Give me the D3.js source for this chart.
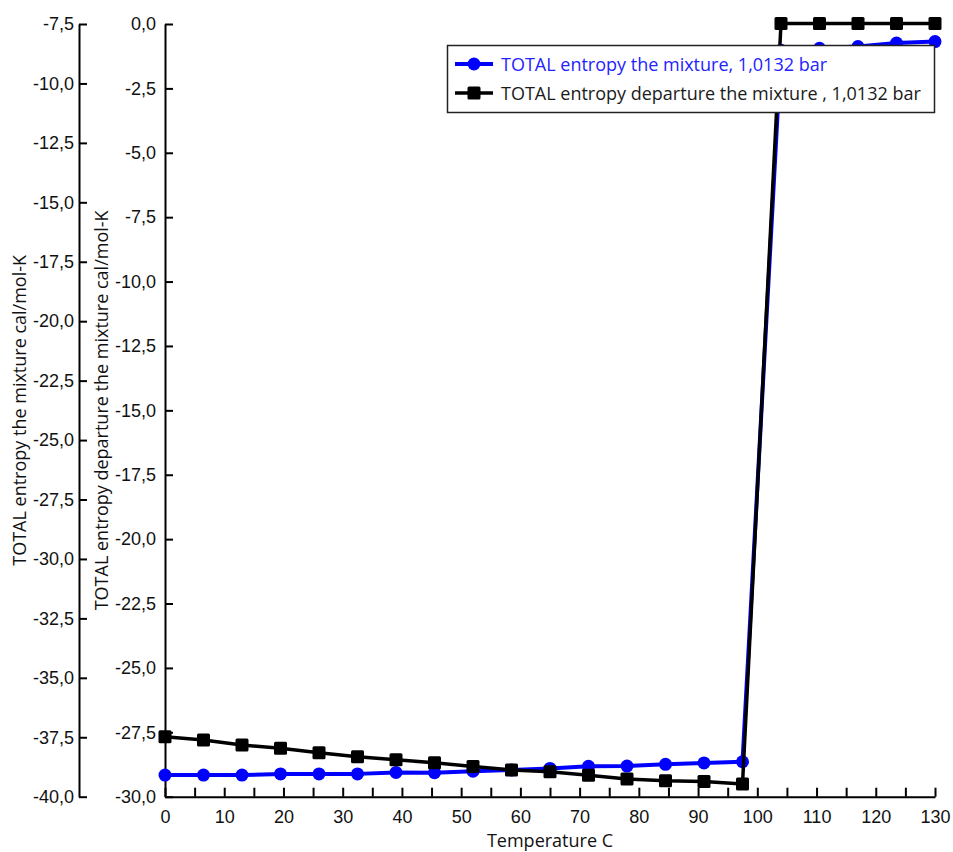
<!DOCTYPE html>
<html>
<head>
<meta charset="utf-8">
<script src="https://cdn.jsdelivr.net/npm/d3@7"></script>
<style>
  body { margin: 0; background: #fff; }
  svg { display: block; font-family: "Open Sans", "Noto Sans", sans-serif; }
</style>
</head>
<body>
<svg id="chart" width="953" height="852"></svg>
<script>
// temperature, C
var temps = [0, 6.5, 13, 19.5, 26, 32.5, 39, 45.5, 52, 58.5, 65, 71.5, 78, 84.5, 91, 97.5, 104, 110.5, 117, 123.5, 130];
// TOTAL entropy the mixture (left axis)
var entropy = [-39.09, -39.09, -39.09, -39.04, -39.04, -39.04, -38.98, -38.99, -38.93, -38.88, -38.81, -38.72, -38.71, -38.64, -38.58, -38.53,
               -8.60, -8.52, -8.45, -8.30, -8.24];
// TOTAL entropy departure the mixture (second axis)
var departure = [-27.67, -27.80, -27.99, -28.12, -28.29, -28.45, -28.57, -28.68, -28.83, -28.96, -29.03, -29.17, -29.31, -29.38, -29.41, -29.51,
                 0.02, 0.02, 0.02, 0.02, 0.02];

var xTicks = [0, 5, 10, 15, 20, 25, 30, 35, 40, 45, 50, 55, 60, 65, 70, 75, 80, 85, 90, 95, 100, 105, 110, 115, 120, 125, 130];
var leftTicks = [-7.5, -10, -12.5, -15, -17.5, -20, -22.5, -25, -27.5, -30, -32.5, -35, -37.5, -40];
var rightTicks = [0, -2.5, -5, -7.5, -10, -12.5, -15, -17.5, -20, -22.5, -25, -27.5, -30];

var legendNames = ["TOTAL entropy the mixture, 1,0132 bar", "TOTAL entropy departure the mixture , 1,0132 bar"];

var svg = d3.select("#chart");
var top_ = 24, bottom = 796.7;
var axL = 79, axR = 165, xEnd = 935;
var fs = "18px";

var x = d3.scaleLinear().domain([0, 130]).range([axR, xEnd]);
var yL = d3.scaleLinear().domain([-40, -7.5]).range([bottom, top_]);
var yR = d3.scaleLinear().domain([-30, 0]).range([bottom, top_]);

function fmt(d) {
    return (d < 0 ? "-" : "") + d3.format(".1f")(Math.abs(d)).replace(".", ",");
}

function styleAxis(g) {
    g.selectAll("path.domain").attr("stroke", "#000").attr("stroke-width", 2);
    g.selectAll(".tick line").attr("stroke", "#000").attr("stroke-width", 2);
    g.selectAll(".tick text").attr("fill", "#111").style("font-size", fs).attr("font-family", null);
}

// left axis
var gL = svg.append("g").attr("transform", "translate(" + axL + ",0)")
    .call(d3.axisLeft(yL).tickValues(leftTicks).tickFormat(fmt).tickSizeInner(-8).tickSizeOuter(0).tickPadding(5));
styleAxis(gL);

// second axis
var gR = svg.append("g").attr("transform", "translate(" + axR + ",0)")
    .call(d3.axisLeft(yR).tickValues(rightTicks).tickFormat(fmt).tickSizeInner(-8).tickSizeOuter(0).tickPadding(9));
styleAxis(gR);

// x axis
var gX = svg.append("g").attr("transform", "translate(0," + bottom + ")")
    .call(d3.axisBottom(x).tickValues(xTicks).tickFormat(function (d) { return d % 10 === 0 ? d : ""; })
        .tickSizeInner(-9).tickSizeOuter(0).tickPadding(14));
styleAxis(gX);

// axis titles
svg.append("text").attr("x", (axR + xEnd) / 2).attr("y", 847).attr("text-anchor", "middle")
    .style("font-size", fs).attr("fill", "#111").text("Temperature C");
svg.append("text").attr("transform", "translate(26," + (top_ + bottom) / 2 + ") rotate(-90)")
    .attr("text-anchor", "middle").style("font-size", fs).attr("fill", "#111")
    .text("TOTAL entropy the mixture cal/mol-K");
svg.append("text").attr("transform", "translate(108," + (top_ + bottom) / 2 + ") rotate(-90)")
    .attr("text-anchor", "middle").style("font-size", fs).attr("fill", "#111")
    .text("TOTAL entropy departure the mixture cal/mol-K");

// series
var blueData = temps.map(function (t, i) { return [t, entropy[i]]; });
var blackData = temps.map(function (t, i) { return [t, departure[i]]; });

var lineL = d3.line().x(function (d) { return x(d[0]); }).y(function (d) { return yL(d[1]); });
var lineR = d3.line().x(function (d) { return x(d[0]); }).y(function (d) { return yR(d[1]); });

svg.append("path").datum(blueData).attr("d", lineL)
    .attr("fill", "none").attr("stroke", "#0000ff").attr("stroke-width", 4).attr("stroke-linejoin", "round");
svg.append("g").selectAll("circle").data(blueData).enter().append("circle")
    .attr("cx", function (d) { return x(d[0]); }).attr("cy", function (d) { return yL(d[1]); })
    .attr("r", 6.5).attr("fill", "#0000ff");

svg.append("path").datum(blackData).attr("d", lineR)
    .attr("fill", "none").attr("stroke", "#000").attr("stroke-width", 3.5).attr("stroke-linejoin", "round");
svg.append("g").selectAll("rect").data(blackData).enter().append("rect")
    .attr("x", function (d) { return x(d[0]) - 6.5; }).attr("y", function (d) { return yR(d[1]) - 6.5; })
    .attr("width", 13).attr("height", 13).attr("rx", 1.5).attr("fill", "#000");

// legend
var lg = svg.append("g");
lg.append("rect").attr("x", 447.5).attr("y", 45.5).attr("width", 487).attr("height", 67)
    .attr("fill", "#fff").attr("stroke", "#222").attr("stroke-width", 1.5);
var rows = [
    { name: legendNames[0], color: "#0000ff", text: "#2323ff", y: 64, shape: "circle" },
    { name: legendNames[1], color: "#000", text: "#1a1a1a", y: 93, shape: "square" }
];
rows.forEach(function (r) {
    lg.append("line").attr("x1", 455).attr("x2", 493).attr("y1", r.y).attr("y2", r.y)
        .attr("stroke", r.color).attr("stroke-width", r.shape === "circle" ? 4 : 3.5);
    if (r.shape === "circle") {
        lg.append("circle").attr("cx", 474).attr("cy", r.y).attr("r", 6.5).attr("fill", r.color);
    } else {
        lg.append("rect").attr("x", 467.5).attr("y", r.y - 6.5).attr("width", 13).attr("height", 13)
            .attr("rx", 1.5).attr("fill", r.color);
    }
    lg.append("text").attr("x", 501).attr("y", r.y + 6.5).style("font-size", fs)
        .attr("fill", r.text).text(r.name);
});
</script>
</body>
</html>
